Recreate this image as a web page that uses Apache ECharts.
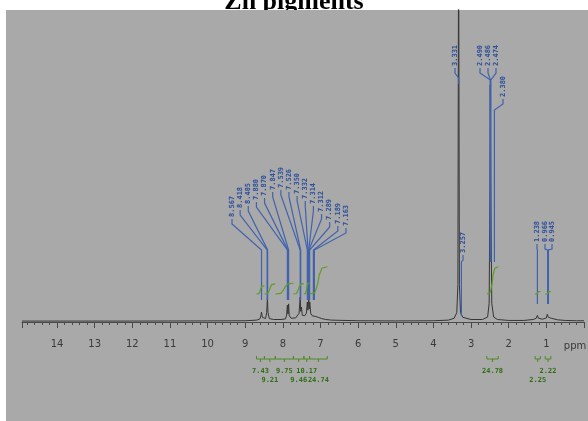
<!DOCTYPE html>
<html>
<head>
<meta charset="utf-8">
<script src="https://cdn.jsdelivr.net/npm/echarts@6/dist/echarts.min.js"></script>
<style>
html,body{margin:0;padding:0;background:#fff;}
#main{width:588px;height:421px;}
</style>
</head>
<body>
<div id="main"></div>
<script>
// 1H spectrum trace, [ppm, intensity]
var spectrum = [
    [14.93,0.3],[12.0,0.3],[10.0,0.35],[9.0,0.4],[8.70,0.6],
    [8.62,0.9],[8.59,1.6],[8.567,3.2],[8.545,1.5],[8.50,0.9],
    [8.46,1.1],[8.43,3.0],[8.41,7.7],[8.395,3.0],[8.36,1.1],
    [8.25,0.8],[8.05,0.8],[7.93,1.0],[7.90,2.2],[7.88,5.4],[7.865,2.6],[7.847,5.8],[7.83,2.0],[7.78,1.2],
    [7.66,1.3],[7.57,2.8],[7.539,8.0],[7.525,3.4],[7.505,4.8],[7.485,2.2],[7.42,2.0],
    [7.375,2.8],[7.35,6.4],[7.335,3.8],[7.312,8.0],[7.30,4.2],[7.285,6.4],[7.26,2.8],
    [7.22,2.0],[7.175,2.6],[7.14,1.8],[7.06,1.5],[6.97,1.1],[6.86,0.8],[6.7,0.6],
    [6.0,0.4],[5.0,0.35],[4.0,0.4],[3.6,0.6],[3.45,1.2],[3.38,3.0],[3.35,12],[3.331,130],[3.31,12],[3.28,3.0],
    [3.22,1.5],[3.0,0.8],[2.7,0.8],[2.56,1.6],[2.52,6],[2.50,40],[2.49,76],[2.475,40],[2.45,6],[2.40,1.6],[2.3,0.8],
    [2.0,0.5],[1.6,0.5],[1.35,0.8],[1.27,1.2],[1.238,2.1],[1.21,1.2],[1.1,0.9],[1.0,1.3],[0.975,2.5],[0.955,1.6],
    [0.93,1.3],[0.87,1.2],[0.82,0.8],[0.7,0.7],[0.5,0.5],[0.2,0.4],[0,0.4]
];

// peak picking (ppm)
var peaksArom = [8.567, 8.418, 8.405, 7.880, 7.870, 7.847, 7.539, 7.526, 7.350, 7.332, 7.314, 7.312, 7.289, 7.189, 7.163];
var peaksWater = [3.331];
var peaksWater2 = [3.257];
var peaksDmso = [2.490, 2.486, 2.474];
var peaksDmso2 = [2.380];
var peaksAlkyl = [1.238, 0.966, 0.945];

// integrals
var intFrom  = [8.70, 8.49, 8.20, 7.72, 7.44, 7.29, 2.58, 1.30, 1.03];
var intTo    = [8.49, 8.20, 7.72, 7.44, 7.29, 6.82, 2.28, 1.16, 0.88];
var intValue = [7.43, 9.21, 9.75, 9.46, 10.17, 24.74, 24.78, 2.25, 2.22];

var myChart = echarts.init(document.getElementById('main'));
var option = {
    animation: false,
    grid: {left: 22, right: 4, top: 10, bottom: 94},
    xAxis: {
        type: 'value',
        inverse: true,
        min: 0,
        max: 14.93,
        interval: 1,
        z: 5,
        axisLine: {lineStyle: {color: '#4a4a4a', width: 1}},
        axisTick: {length: 6, lineStyle: {color: '#4a4a4a'}},
        minorTick: {show: true, splitNumber: 5, length: 3, lineStyle: {color: '#4a4a4a'}},
        splitLine: {show: false},
        axisLabel: {
            color: '#3a3a3a', fontSize: 10, margin: 12, fontFamily: 'DejaVu Sans',
            showMaxLabel: false, showMinLabel: false,
            formatter: function (v) { return (v === 0 || v % 1 !== 0) ? '' : v; }
        }
    },
    yAxis: {type: 'value', show: false, min: -1.6, max: 100},
    series: [{
        type: 'line',
        data: spectrum,
        showSymbol: false,
        clip: true,
        lineStyle: {color: '#353535', width: 1},
        z: 2
    }]
};
myChart.setOption(option);

function px(ppm) {
    return myChart.convertToPixel({xAxisIndex: 0, yAxisIndex: 0}, [ppm, 0])[0];
}

var els = [];
// gray canvas + clipped title
els.push({type: 'text', x: 294, y: 2, z: 0,
    style: {text: 'Zn pigments', fontSize: 26, fontWeight: 'bold', fontFamily: 'Liberation Serif',
        fill: '#000', align: 'center', verticalAlign: 'middle'}});
els.push({type: 'rect', shape: {x: 6, y: 10, width: 582, height: 411}, style: {fill: '#a9a9a9'}, z: 1});
els.push({type: 'text', x: 575, y: 346, z: 5,
    style: {text: 'ppm', fontSize: 10, fontFamily: 'DejaVu Sans', fill: '#3a3a3a', align: 'center', verticalAlign: 'middle'}});

function addLabels(ppms, textXs, bottoms, elbowY, endY) {
    ppms.forEach(function (p, i) {
        var x = px(p), tx = textXs[i], b = bottoms[i];
        els.push({type: 'text', x: tx, y: b, rotation: Math.PI / 2, z: 4,
            style: {text: p.toFixed(3), fontSize: 7, fontWeight: 'bold', fontFamily: 'DejaVu Sans Mono',
                fill: '#2d4f9e', align: 'left', verticalAlign: 'middle'}});
        els.push({type: 'polyline', z: 4,
            shape: {points: [[tx, b + 2], [tx, b + 7], [x, elbowY], [x, endY]]},
            style: {stroke: '#3f62b0', lineWidth: 1.2, fill: null}});
    });
}

var aromX = peaksArom.map(function (p, i) { return 232 + i * 8.14; });
var aromB = [217, 208, 204, 200, 196, 190, 188, 190, 194, 199, 204, 212, 220, 224, 226];
addLabels(peaksArom, aromX, aromB, 250, 300);
addLabels(peaksWater, [455], [66], 78, 84);
addLabels(peaksWater2, [463], [253], 262, 316);
addLabels(peaksDmso, [480, 488, 496], [66, 66, 66], 80, 262);
addLabels(peaksDmso2, [503], [97], 110, 262);
addLabels(peaksAlkyl, [537, 545, 552], [242, 242, 242], 250, 304);

// integral curves and brackets
var shape = [[0, 0], [0.3, 0.05], [0.45, 0.35], [0.55, 0.7], [0.7, 0.95], [1, 1]];
intFrom.forEach(function (f, i) {
    var x0 = px(f), x1 = px(intTo[i]), h = intValue[i] * 1.1, base = 294;
    els.push({type: 'polyline', z: 4,
        shape: {points: shape.map(function (s) { return [x0 + (x1 - x0) * s[0], base - h * s[1]]; })},
        style: {stroke: '#5c9e24', lineWidth: 1.2, fill: null}});
    var y = 359, xc = (x0 + x1) / 2;
    els.push({type: 'polyline', z: 4,
        shape: {points: [[x0, y - 3], [x0, y], [x1, y], [x1, y - 3]]},
        style: {stroke: '#4e8a22', lineWidth: 1, fill: null}});
    els.push({type: 'line', z: 4, shape: {x1: xc, y1: y, x2: xc, y2: y + 3},
        style: {stroke: '#4e8a22', lineWidth: 1}});
    els.push({type: 'text', x: xc, y: i % 2 === 0 ? 371 : 380, z: 4,
        style: {text: intValue[i].toFixed(2), fontSize: 7, fontWeight: 'bold', fontFamily: 'DejaVu Sans Mono',
            fill: '#2f6e14', align: 'center', verticalAlign: 'middle'}});
});

myChart.setOption({graphic: {elements: els}});
</script>
</body>
</html>
